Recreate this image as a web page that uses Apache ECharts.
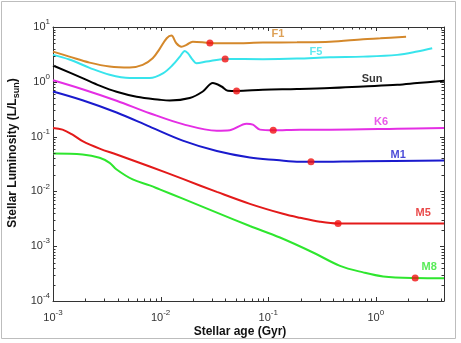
<!DOCTYPE html>
<html>
<head>
<meta charset="utf-8">
<script src="https://cdn.jsdelivr.net/npm/echarts@6/dist/echarts.min.js"></script>
<style>
  html, body { margin: 0; padding: 0; background: #fff; }
  #chart { width: 461px; height: 343px; }
</style>
</head>
<body>
<div id="chart"></div>
<script>
// Evolutionary luminosity tracks: age in Gyr, luminosity in L/Lsun
const f1Age = [0.001, 0.00142, 0.00219, 0.00336, 0.00516, 0.00681, 0.00844, 0.0098, 0.0114, 0.0126, 0.0140, 0.0156, 0.0174, 0.0199, 0.0287, 0.0440, 0.0893, 0.185, 0.375, 0.762, 1.10, 1.91];
const f1Lum = [3.56, 2.88, 2.24, 1.90, 1.82, 2.04, 2.70, 4.0, 6.23, 7.0, 5.05, 4.38, 4.71, 5.40, 5.12, 5.05, 5.19, 5.27, 5.40, 5.98, 6.23, 6.66];

const f5Age = [0.001, 0.00142, 0.00219, 0.00336, 0.00516, 0.00792, 0.0105, 0.0130, 0.0151, 0.0168, 0.0179, 0.0199, 0.0215, 0.0267, 0.0398, 0.0893, 0.185, 0.375, 0.762, 1.58, 2.42, 3.34];
const f5Lum = [3.10, 2.55, 1.80, 1.341, 1.168, 1.168, 1.42, 2.04, 2.88, 3.66, 3.33, 2.51, 2.19, 2.34, 2.62, 2.59, 2.65, 2.81, 2.88, 3.10, 3.56, 4.10];

const sunAge = [0.001, 0.00188, 0.00271, 0.0039, 0.00599, 0.0098, 0.01216, 0.01866, 0.02466, 0.03055, 0.03683, 0.04215, 0.0508, 0.0893, 0.185, 0.375, 0.762, 1.58, 2.42, 4.3];
const sunLum = [1.98, 1.168, 0.853, 0.658, 0.534, 0.471, 0.455, 0.505, 0.666, 0.947, 0.821, 0.686, 0.68, 0.715, 0.737, 0.768, 0.821, 0.880, 0.947, 1.043];

const k6Age = [0.001, 0.00188, 0.0039, 0.00792, 0.01606, 0.0333, 0.0440, 0.0629, 0.0720, 0.0837, 0.1113, 0.1973, 0.375, 1.58, 4.3];
const k6Lum = [1.065, 0.731, 0.451, 0.2675, 0.1688, 0.1285, 0.1311, 0.172, 0.165, 0.134, 0.130, 0.134, 0.134, 0.139, 0.144];

const m1Age = [0.001, 0.00188, 0.0039, 0.00792, 0.01606, 0.0333, 0.0675, 0.1197, 0.1973, 0.2497, 0.762, 4.3];
const m1Lum = [0.666, 0.461, 0.2754, 0.152, 0.0846, 0.0545, 0.0415, 0.0374, 0.0347, 0.0347, 0.0356, 0.0366];

const m5Age = [0.001, 0.001226, 0.001519, 0.001882, 0.00271, 0.0039, 0.00792, 0.01606, 0.0333, 0.0675, 0.137, 0.197, 0.303, 0.4457, 4.3];
const m5Lum = [0.1439, 0.1341, 0.1087, 0.0828, 0.0605, 0.0471, 0.0285, 0.01688, 0.0098, 0.00593, 0.0039, 0.0033, 0.00279, 0.002586, 0.002586];

const m8Age = [0.001, 0.001882, 0.00271, 0.00336, 0.0039, 0.0055, 0.00792, 0.0098, 0.01606, 0.0333, 0.0675, 0.1285, 0.2607, 0.465, 0.762, 1.17, 2.32, 4.3];
const m8Lum = [0.0491, 0.0471, 0.041, 0.0332, 0.0251, 0.01652, 0.01285, 0.01087, 0.00737, 0.0041, 0.00234, 0.001439, 0.000768, 0.000438, 0.000333, 0.000281, 0.000262, 0.000259];

// Arrival on the main sequence for each track
const zamsAge = [0.0287, 0.0398, 0.0508, 0.1113, 0.2497, 0.4457, 2.32];
const zamsLum = [5.12, 2.62, 0.68, 0.130, 0.0347, 0.002586, 0.000262];

const trackNames = ['F1', 'F5', 'Sun', 'K6', 'M1', 'M5', 'M8'];
const trackColors = ['#d4882b', '#38e4ec', '#000000', '#e42ee4', '#1a1acd', '#e31a1a', '#2ee62e'];
const trackAges = [f1Age, f5Age, sunAge, k6Age, m1Age, m5Age, m8Age];
const trackLums = [f1Lum, f5Lum, sunLum, k6Lum, m1Lum, m5Lum, m8Lum];

// Where each track's name is written (age, luminosity)
const nameAge = [0.1231, 0.278, 0.924, 1.12, 1.613, 2.756, 3.135];
const nameLum = [7.46, 3.51, 1.134, 0.1875, 0.0471, 0.00398, 0.000415];

// Axis ranges and decade ticks
const ageMin = 0.001, ageMax = 4.3;
const lumMin = 1e-4, lumMax = 10;
const ageDecades = [0.001, 0.01, 0.1, 1];
const lumDecades = [1e-4, 1e-3, 1e-2, 1e-1, 1, 10];

const axisColor = '#333333';
const fontFam = '"Liberation Sans", Arial, Helvetica, sans-serif';

function zip(a, b) { return a.map((v, i) => [v, b[i]]); }

// tick items: [age, lum, length]; major at decades, minor at 2..9 x decade
const xTicks = [], yTicks = [];
ageDecades.forEach(d => {
  xTicks.push([d, 1, 4]);
  for (let k = 2; k <= 9; k++) { if (d * k <= ageMax) xTicks.push([d * k, 1, 2.5]); }
});
lumDecades.forEach(d => {
  yTicks.push([0.01, d, 4]);
  if (d < lumMax) for (let k = 2; k <= 9; k++) yTicks.push([0.01, d * k, 2.5]);
});

function powLabel(v) {
  const e = Math.log10(v);
  const r = Math.round(e);
  if (Math.abs(e - r) > 1e-6) return '';
  return '{b|10}{s|' + r + '}';
}
const labelRich = {
  b: { fontSize: 11, lineHeight: 18, color: axisColor, fontFamily: fontFam },
  s: { fontSize: 8, lineHeight: 8, verticalAlign: 'top', color: axisColor, fontFamily: fontFam }
};

function tickSeries(items, isX) {
  return {
    type: 'custom',
    silent: true,
    clip: false,
    z: 6,
    data: items,
    renderItem: function (params, api) {
      const cs = params.coordSys;
      const len = api.value(2);
      const st = { stroke: axisColor, lineWidth: 1 };
      if (isX) {
        const px = Math.round(api.coord([api.value(0), 1])[0]) + 0.5;
        const yb = cs.y + cs.height, yt = cs.y;
        return { type: 'group', children: [
          { type: 'line', shape: { x1: px, y1: yb, x2: px, y2: yb - len }, style: st },
          { type: 'line', shape: { x1: px, y1: yt, x2: px, y2: yt + len }, style: st }
        ] };
      }
      const py = Math.round(api.coord([0.01, api.value(1)])[1]) + 0.5;
      const xl = cs.x, xr = cs.x + cs.width;
      return { type: 'group', children: [
        { type: 'line', shape: { x1: xl, y1: py, x2: xl + len, y2: py }, style: st },
        { type: 'line', shape: { x1: xr, y1: py, x2: xr - len, y2: py }, style: st }
      ] };
    }
  };
}

const series = [];
trackNames.forEach((n, i) => {
  series.push({
    name: n,
    type: 'line',
    data: zip(trackAges[i], trackLums[i]),
    showSymbol: false,
    smooth: 0.35,
    lineStyle: { color: trackColors[i], width: 2 },
    itemStyle: { color: trackColors[i] },
    z: 3
  });
});
series.push({
  type: 'scatter',
  data: zip(zamsAge, zamsLum),
  symbolSize: 7,
  itemStyle: { color: '#f01212' },
  z: 8
});
series.push({
  type: 'scatter',
  symbolSize: 0,
  silent: true,
  data: trackNames.map((n, i) => ({
    value: [nameAge[i], nameLum[i]],
    label: { show: true, position: 'inside', formatter: n, color: trackColors[i],
             fontSize: 11, fontWeight: 'bold', fontFamily: fontFam }
  })),
  z: 9
});
series.push(tickSeries(xTicks, true));
series.push(tickSeries(yTicks, false));

const chart = echarts.init(document.getElementById('chart'), null, { renderer: 'canvas' });
chart.setOption({
  animation: false,
  backgroundColor: '#ffffff',
  grid: { left: 53, top: 27, right: 17, bottom: 42, containLabel: false },
  xAxis: [
    {
      type: 'log', logBase: 10, min: ageMin, max: ageMax,
      axisLine: { show: true, onZero: false, lineStyle: { color: axisColor, width: 1 } },
      axisTick: { show: false },
      splitLine: { show: false },
      axisLabel: { margin: 8, formatter: powLabel, rich: labelRich, showMinLabel: true, showMaxLabel: true }
    },
    {
      type: 'log', logBase: 10, min: ageMin, max: ageMax, position: 'top',
      axisLine: { show: true, onZero: false, lineStyle: { color: axisColor, width: 1 } },
      axisTick: { show: false }, axisLabel: { show: false }, splitLine: { show: false }
    }
  ],
  yAxis: [
    {
      type: 'log', logBase: 10, min: lumMin, max: lumMax,
      axisLine: { show: true, onZero: false, lineStyle: { color: axisColor, width: 1 } },
      axisTick: { show: false },
      splitLine: { show: false },
      axisLabel: { margin: 3, formatter: powLabel, rich: labelRich, showMinLabel: true, showMaxLabel: true }
    },
    {
      type: 'log', logBase: 10, min: lumMin, max: lumMax, position: 'right',
      axisLine: { show: true, onZero: false, lineStyle: { color: axisColor, width: 1 } },
      axisTick: { show: false }, axisLabel: { show: false }, splitLine: { show: false }
    }
  ],
  graphic: [
    {
      type: 'rect', silent: true, z: -1,
      shape: { x: 1.5, y: 1.5, width: 454, height: 337 },
      style: { fill: null, stroke: '#bdbdbd', lineWidth: 1 }
    },
    {
      type: 'text', x: 240, y: 332,
      style: { text: 'Stellar age (Gyr)', font: 'bold 12px ' + fontFam, fill: '#111',
               align: 'center', verticalAlign: 'middle' }
    },
    {
      type: 'text', x: 13, y: 153, rotation: Math.PI / 2,
      style: {
        text: '{t|Stellar Luminosity (L/L}{u|sun}{t|)}',
        align: 'center', verticalAlign: 'middle',
        rich: {
          t: { fontSize: 12, fontWeight: 'bold', lineHeight: 16, fontFamily: fontFam, fill: '#111', color: '#111' },
          u: { fontSize: 9, fontWeight: 'bold', lineHeight: 9, verticalAlign: 'bottom', fontFamily: fontFam, fill: '#111', color: '#111' }
        }
      }
    }
  ],
  series: series
});
</script>
</body>
</html>
